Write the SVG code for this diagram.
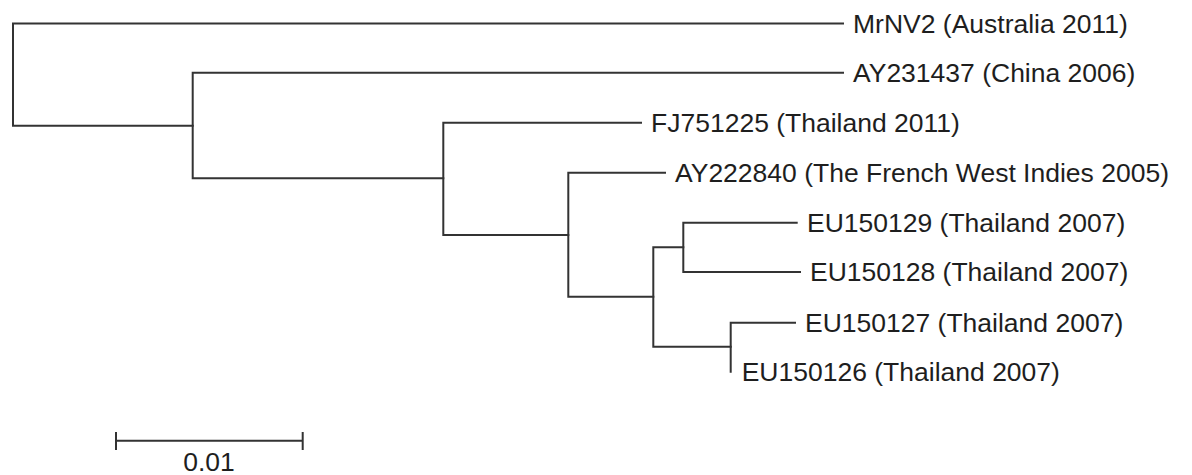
<svg xmlns="http://www.w3.org/2000/svg" width="1192" height="475" viewBox="0 0 1192 475">
<style>
.br{fill:none;stroke:#333;stroke-width:2;stroke-linecap:square;stroke-linejoin:miter}
.lb{font-family:"Liberation Sans",Arial,sans-serif;font-size:26.5px;fill:#1e1e1e}
</style>
<rect width="1192" height="475" fill="#fff"/>
<g id="connectors">
<path class="br" d="M843,23.5 H13 V125.7 H192.7"/>
<path class="br" d="M843,72.7 H192.7 V178.3 H443.3"/>
<path class="br" d="M641,122.7 H443.3 V235 H568.3"/>
<path class="br" d="M665,172.7 H568.3 V296.7 H653.3"/>
<path class="br" d="M683.3,247.3 H653.3 V346.7 H730.7"/>
<path class="br" d="M796.7,222.7 H683.3 V272 H800"/>
<path class="br" d="M795,322.7 H730.7 V371.7"/>
</g>
<g id="n-mrnv2"><text class="lb" x="853" y="32.5">MrNV2 (Australia 2011)</text></g>
<g id="n-ay231437"><text class="lb" x="853" y="81.5">AY231437 (China 2006)</text></g>
<g id="n-fj751225"><text class="lb" x="651" y="132">FJ751225 (Thailand 2011)</text></g>
<g id="n-ay222840"><text class="lb" x="675" y="181.5">AY222840 (The French West Indies 2005)</text></g>
<g id="n-eu150129"><text class="lb" x="807" y="231.7">EU150129 (Thailand 2007)</text></g>
<g id="n-eu150128"><text class="lb" x="810" y="281">EU150128 (Thailand 2007)</text></g>
<g id="n-eu150127"><text class="lb" x="805" y="331.5">EU150127 (Thailand 2007)</text></g>
<g id="n-eu150126"><text class="lb" x="741.7" y="380.7">EU150126 (Thailand 2007)</text></g>
<g id="scale">
<path class="br" d="M116,440.7 H302.7 M116,433 V449 M302.7,433 V449"/>
<text class="lb" x="209" y="471" text-anchor="middle">0.01</text>
</g>
</svg>
